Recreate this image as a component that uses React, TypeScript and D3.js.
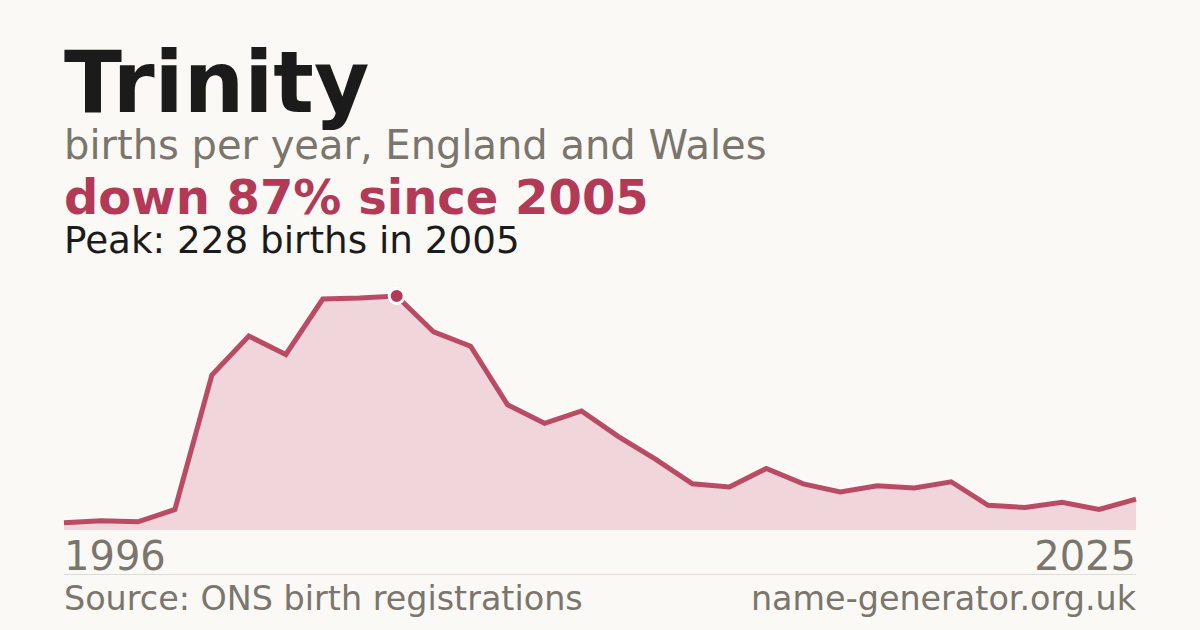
import React from 'react';
import * as d3 from 'd3';

const years: number[] = [
	1996, 1997, 1998, 1999, 2000, 2001, 2002, 2003, 2004, 2005, 2006, 2007, 2008, 2009, 2010,
	2011, 2012, 2013, 2014, 2015, 2016, 2017, 2018, 2019, 2020, 2021, 2022, 2023, 2024, 2025,
];
const births: number[] = [
	7, 9, 8, 20, 151, 189, 171, 225, 226, 228, 193, 179, 122, 104, 116,
	91, 69, 45, 42, 60, 45, 37, 43, 41, 47, 24, 22, 27, 20, 30,
];
const title = 'Trinity';
const subtitle = 'births per year, England and Wales';
const changeText = 'down 87% since 2005';
const peakText = 'Peak: 228 births in 2005';
const sourceText = 'Source: ONS birth registrations';
const siteText = 'name-generator.org.uk';

const W = 1200;
const H = 630;
const font = '"DejaVu Sans", sans-serif';
const red = '#b23a57';
const grey = '#7a756d';

const App: React.FC = () => {
	const left = 64;
	const right = 1136;
	const bottom = 530;
	const top = 296;

	const x = d3.scaleLinear().domain([years[0], years[years.length - 1]]).range([left, right]);
	const y = d3.scaleLinear().domain([0, d3.max(births) as number]).range([bottom, top]);

	const pts: [number, number][] = years.map((yr, i) => [yr, births[i]]);
	const area = d3
		.area<[number, number]>()
		.x((d) => x(d[0]))
		.y0(bottom)
		.y1((d) => y(d[1]));
	const line = d3
		.line<[number, number]>()
		.x((d) => x(d[0]))
		.y((d) => y(d[1]));

	const peakIdx = births.indexOf(d3.max(births) as number);

	return (
		<svg
			width={W}
			height={H}
			style={{ position: 'absolute', left: 0, top: 0, display: 'block' }}
			fontFamily={font}
		>
			<rect width={W} height={H} fill="#faf9f5" />
			<text x={left} y={112} fontSize={85} fontWeight="bold" fill="#1b1b1b">
				{title}
			</text>
			<text x={left} y={159} fontSize={40} fill={grey}>
				{subtitle}
			</text>
			<text x={left} y={214} fontSize={48} fontWeight="bold" fill={red}>
				{changeText}
			</text>
			<text x={left} y={253} fontSize={37.3} fill="#1b1b1b">
				{peakText}
			</text>

			<path d={area(pts) || ''} fill="#f0d5da" />
			<path d={line(pts) || ''} fill="none" stroke={red} strokeWidth={5} strokeOpacity={0.9} strokeLinejoin="miter" />
			<circle cx={x(years[peakIdx])} cy={y(births[peakIdx])} r={7.5} fill={red} stroke="#ffffff" strokeWidth={3} />

			<text x={left} y={570} fontSize={40} fill={grey}>
				{years[0]}
			</text>
			<text x={right} y={570} fontSize={40} fill={grey} textAnchor="end">
				{years[years.length - 1]}
			</text>
			<line x1={left} x2={right} y1={574.5} y2={574.5} stroke="#dedbd4" strokeWidth={1} />
			<text x={left} y={610} fontSize={33.4} fill={grey}>
				{sourceText}
			</text>
			<text x={right} y={610} fontSize={33.4} fill={grey} textAnchor="end">
				{siteText}
			</text>
		</svg>
	);
};

export default App;
